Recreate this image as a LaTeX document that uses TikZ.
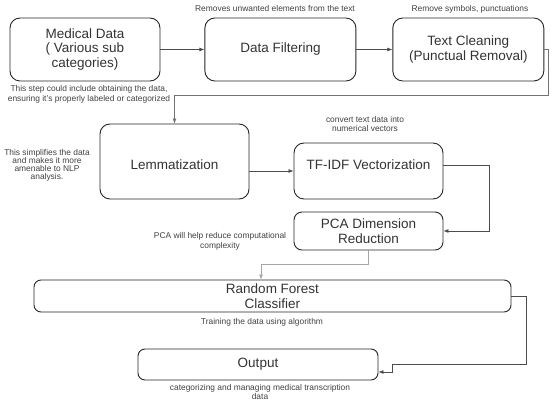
\documentclass[tikz,border=0pt]{standalone}
\usepackage{fontspec}
\setmainfont{Liberation Sans}
\usetikzlibrary{arrows.meta,positioning}
\newcommand{\nudge}[2]{\raisebox{#1}[\height][\depth]{#2}}
\tikzset{
  box/.style={draw=black!85, line width=0.9pt, rounded corners=10pt, align=center,
              text=black!80, font=\fontsize{13.5}{14.5}\selectfont,
              minimum width=151pt, minimum height=63pt, inner sep=2pt},
  note/.style={align=center, text=black!75, font=\fontsize{8.4}{9.8}\selectfont, inner sep=1pt},
  arr/.style={-{Latex[length=5pt,width=4pt]}, draw=black!70, line width=0.7pt}
}

\begin{document}
\begin{tikzpicture}[x=1pt, y=-1pt]
  \useasboundingbox (0,0) rectangle (555,411);
  % preprocessing row
  \node[box, minimum width=150pt] (med) at (85,49.5) {Medical Data\\( Various sub\\categories)};
  \node[box, right=44pt of med] (filt) {Data Filtering};
  \node[box, right=36pt of filt] (clean) {Text Cleaning\\(Punctual Removal)};
  % feature steps
  \node[box, minimum width=149pt, minimum height=75pt] (lemm) at (174.5,161.5) {\nudge{-3.5pt}{Lemmatization}};
  \node[box, minimum width=149pt, minimum height=56pt] (tfidf) at (368.5,171) {\nudge{6pt}{TF-IDF Vectorization}};
  \node[box, minimum width=149pt, minimum height=38pt, rounded corners=8pt] (pca) at (368.5,231) {PCA Dimension\\Reduction};
  % model and result
  \node[box, minimum width=477pt, minimum height=32pt, rounded corners=7pt] (rf) at (272.5,296) {Random Forest\\Classifier};
  \node[box, minimum width=240pt, minimum height=31pt, rounded corners=7pt] (out) at (258,364.5) {Output};

  % notes
  \node[note] (filtnote) at (275,9) {Removes unwanted elements from the text};
  \node[note] (cleannote) at (470,9) {Remove symbols, punctuations};
  \node[note] (mednote) at (89,94) {This step could include obtaining the data,\\ensuring it's properly labeled or categorized};
  \node[note, font=\fontsize{8.4}{8.1}\selectfont] (lemmnote) at (47,165) {This simplifies the data\\and makes it more\\amenable to NLP\\analysis.};
  \node[note, font=\fontsize{8.4}{9}\selectfont] (tfidfnote) at (365,124.5) {convert text data into\\numerical vectors};
  \node[note] (pcanote) at (220,241) {PCA will help reduce computational\\complexity};
  \node[note] (rfnote) at (262,322) {Training the data using algorithm};
  \node[note] (outnote) at (260,392) {categorizing and managing medical transcription\\data};

  % connectors
  \coordinate (c1) at (548,95);
  \coordinate (c2) at (489,165);
  \coordinate (c3) at (261,264);
  \coordinate (c4) at (526,364);
  \coordinate (c5) at (392,372);
  \draw[arr] (med) -- (filt);
  \draw[arr] (filt) -- (clean);
  \draw[arr, draw=black!55] (clean.east) -| (c1) -| (lemm.north);
  \draw[arr] (tfidf.west -| lemm.east) -- (tfidf.west);
  \draw[arr] ([yshift=6pt]tfidf.east) -- (c2) |- (pca.east);
  \draw[arr, draw=black!35] (pca.south) |- (c3) -- (c3 |- rf.north);
  \draw[arr] (rf.east) -| (c4) -| (c5) -- (c5 -| out.east);
\end{tikzpicture}
\end{document}
